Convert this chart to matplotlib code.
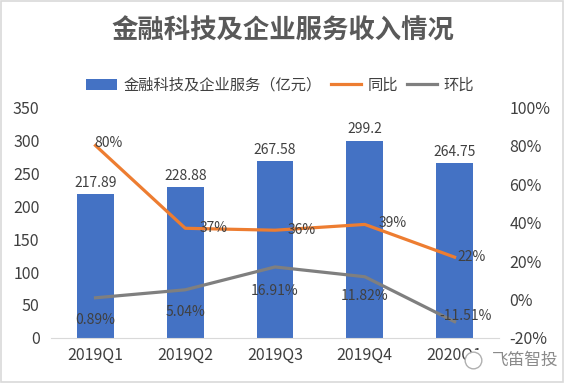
import matplotlib
matplotlib.use("Agg")
import matplotlib.pyplot as plt
from matplotlib.patches import Rectangle
from matplotlib.lines import Line2D
import numpy as np

plt.rcParams['font.family'] = ['Noto Sans CJK SC', 'DejaVu Sans']

categories = ["2019Q1", "2019Q2", "2019Q3", "2019Q4", "2020Q1"]
revenue = [217.89, 228.88, 267.58, 299.2, 264.75]
revenue_labels = ["217.89", "228.88", "267.58", "299.2", "264.75"]
yoy = [80, 37, 36, 39, 22]
qoq = [0.89, 5.04, 16.91, 11.82, -11.51]
title = "金融科技及企业服务收入情况"
bar_name = "金融科技及企业服务（亿元）"
yoy_name = "同比"
qoq_name = "环比"
watermark = "飞笛智投"
left_ticks = [0, 50, 100, 150, 200, 250, 300, 350]
right_ticks = [-20, 0, 20, 40, 60, 80, 100]

BLUE = "#4472C4"
ORANGE = "#ED7D31"
GRAY = "#7F7F7F"
TXT = "#404040"

fig = plt.figure(figsize=(5.65, 3.83), dpi=100)
ax = fig.add_axes([0.0896, 0.1175, 0.7944, 0.6031])
ax2 = ax.twinx()

x = np.arange(len(categories))
bars = ax.bar(x, revenue, width=0.41, color=BLUE, label=bar_name, zorder=2)
ax.set_ylim(0, 350)
ax.set_xlim(-0.5, len(categories) - 0.5)
ax.set_yticks(left_ticks)
ax.set_xticks(x)
ax.set_xticklabels(categories, fontsize=11.5, color=TXT, fontweight='medium')
ax.tick_params(axis='y', length=0, pad=8, labelsize=11.5, labelcolor=TXT)
ax.tick_params(axis='x', length=0, pad=6)
for s in ['top', 'left', 'right']:
    ax.spines[s].set_visible(False)
ax.spines['bottom'].set_color('#D9D9D9')

ax2.set_ylim(-20, 100)
ax2.set_yticks(right_ticks)
ax2.set_yticklabels([f"{t}%" for t in right_ticks])
ax2.tick_params(axis='y', length=0, pad=7, labelsize=11.5, labelcolor=TXT)
for s in ['top', 'left', 'right', 'bottom']:
    ax2.spines[s].set_visible(False)

l1, = ax2.plot(x, yoy, color=ORANGE, lw=2.3, label=yoy_name, zorder=3)
l2, = ax2.plot(x, qoq, color=GRAY, lw=2.3, label=qoq_name, zorder=3)

for xi, v, lab in zip(x, revenue, revenue_labels):
    ax.annotate(lab, (xi, v), xytext=(0, 3), textcoords='offset points',
                ha='center', va='bottom', fontsize=10, color=TXT)

yoy_off = [(-1, 2), (10, 0), (9, 0), (10, 1), (2, 0)]
for xi, v, off in zip(x, yoy, yoy_off):
    ax2.annotate(f"{v}%", (xi, v), xytext=off, textcoords='offset points',
                 ha='left', va='center', fontsize=10, color=TXT, zorder=4)

qoq_off = [(0, -16), (0, -16), (0, -17), (0, -14), (8, 4)]
for xi, v, off in zip(x, qoq, qoq_off):
    ax2.annotate(f"{v:.2f}%", (xi, v), xytext=off, textcoords='offset points',
                 ha='center', va='center', fontsize=10, color=TXT, zorder=4)

fig.text(0.5, 0.919, title, ha='center', va='center', fontsize=19,
         fontweight='bold', color='#595959')

fig.legend(handles=[bars, l1, l2], labels=[bar_name, yoy_name, qoq_name],
           loc='center', bbox_to_anchor=(0.496, 0.778), ncol=3, frameon=False,
           fontsize=11, handlelength=2.0, handleheight=0.7, handletextpad=0.4,
           columnspacing=0.6, labelcolor=TXT)

# watermark (covers the end of the last category label, as in the source image)
fig.patches.append(Rectangle((0.838, 0.035), 0.15, 0.05, transform=fig.transFigure,
                             facecolor='white', edgecolor='none', zorder=5))
fig.add_artist(Line2D([0.838], [0.06], transform=fig.transFigure, marker='o',
                      markersize=12, mfc='white', mec='#B0B0B0', mew=1.0, zorder=6))
fig.text(0.871, 0.06, watermark, ha='left', va='center', fontsize=12,
         color='#8A8A8A', zorder=6)

fig.patches.append(Rectangle((0.002, 0.003), 0.995, 0.994, transform=fig.transFigure,
                             fill=False, edgecolor='#D9D9D9', lw=1.2))

fig.savefig("out.png", dpi=100)
